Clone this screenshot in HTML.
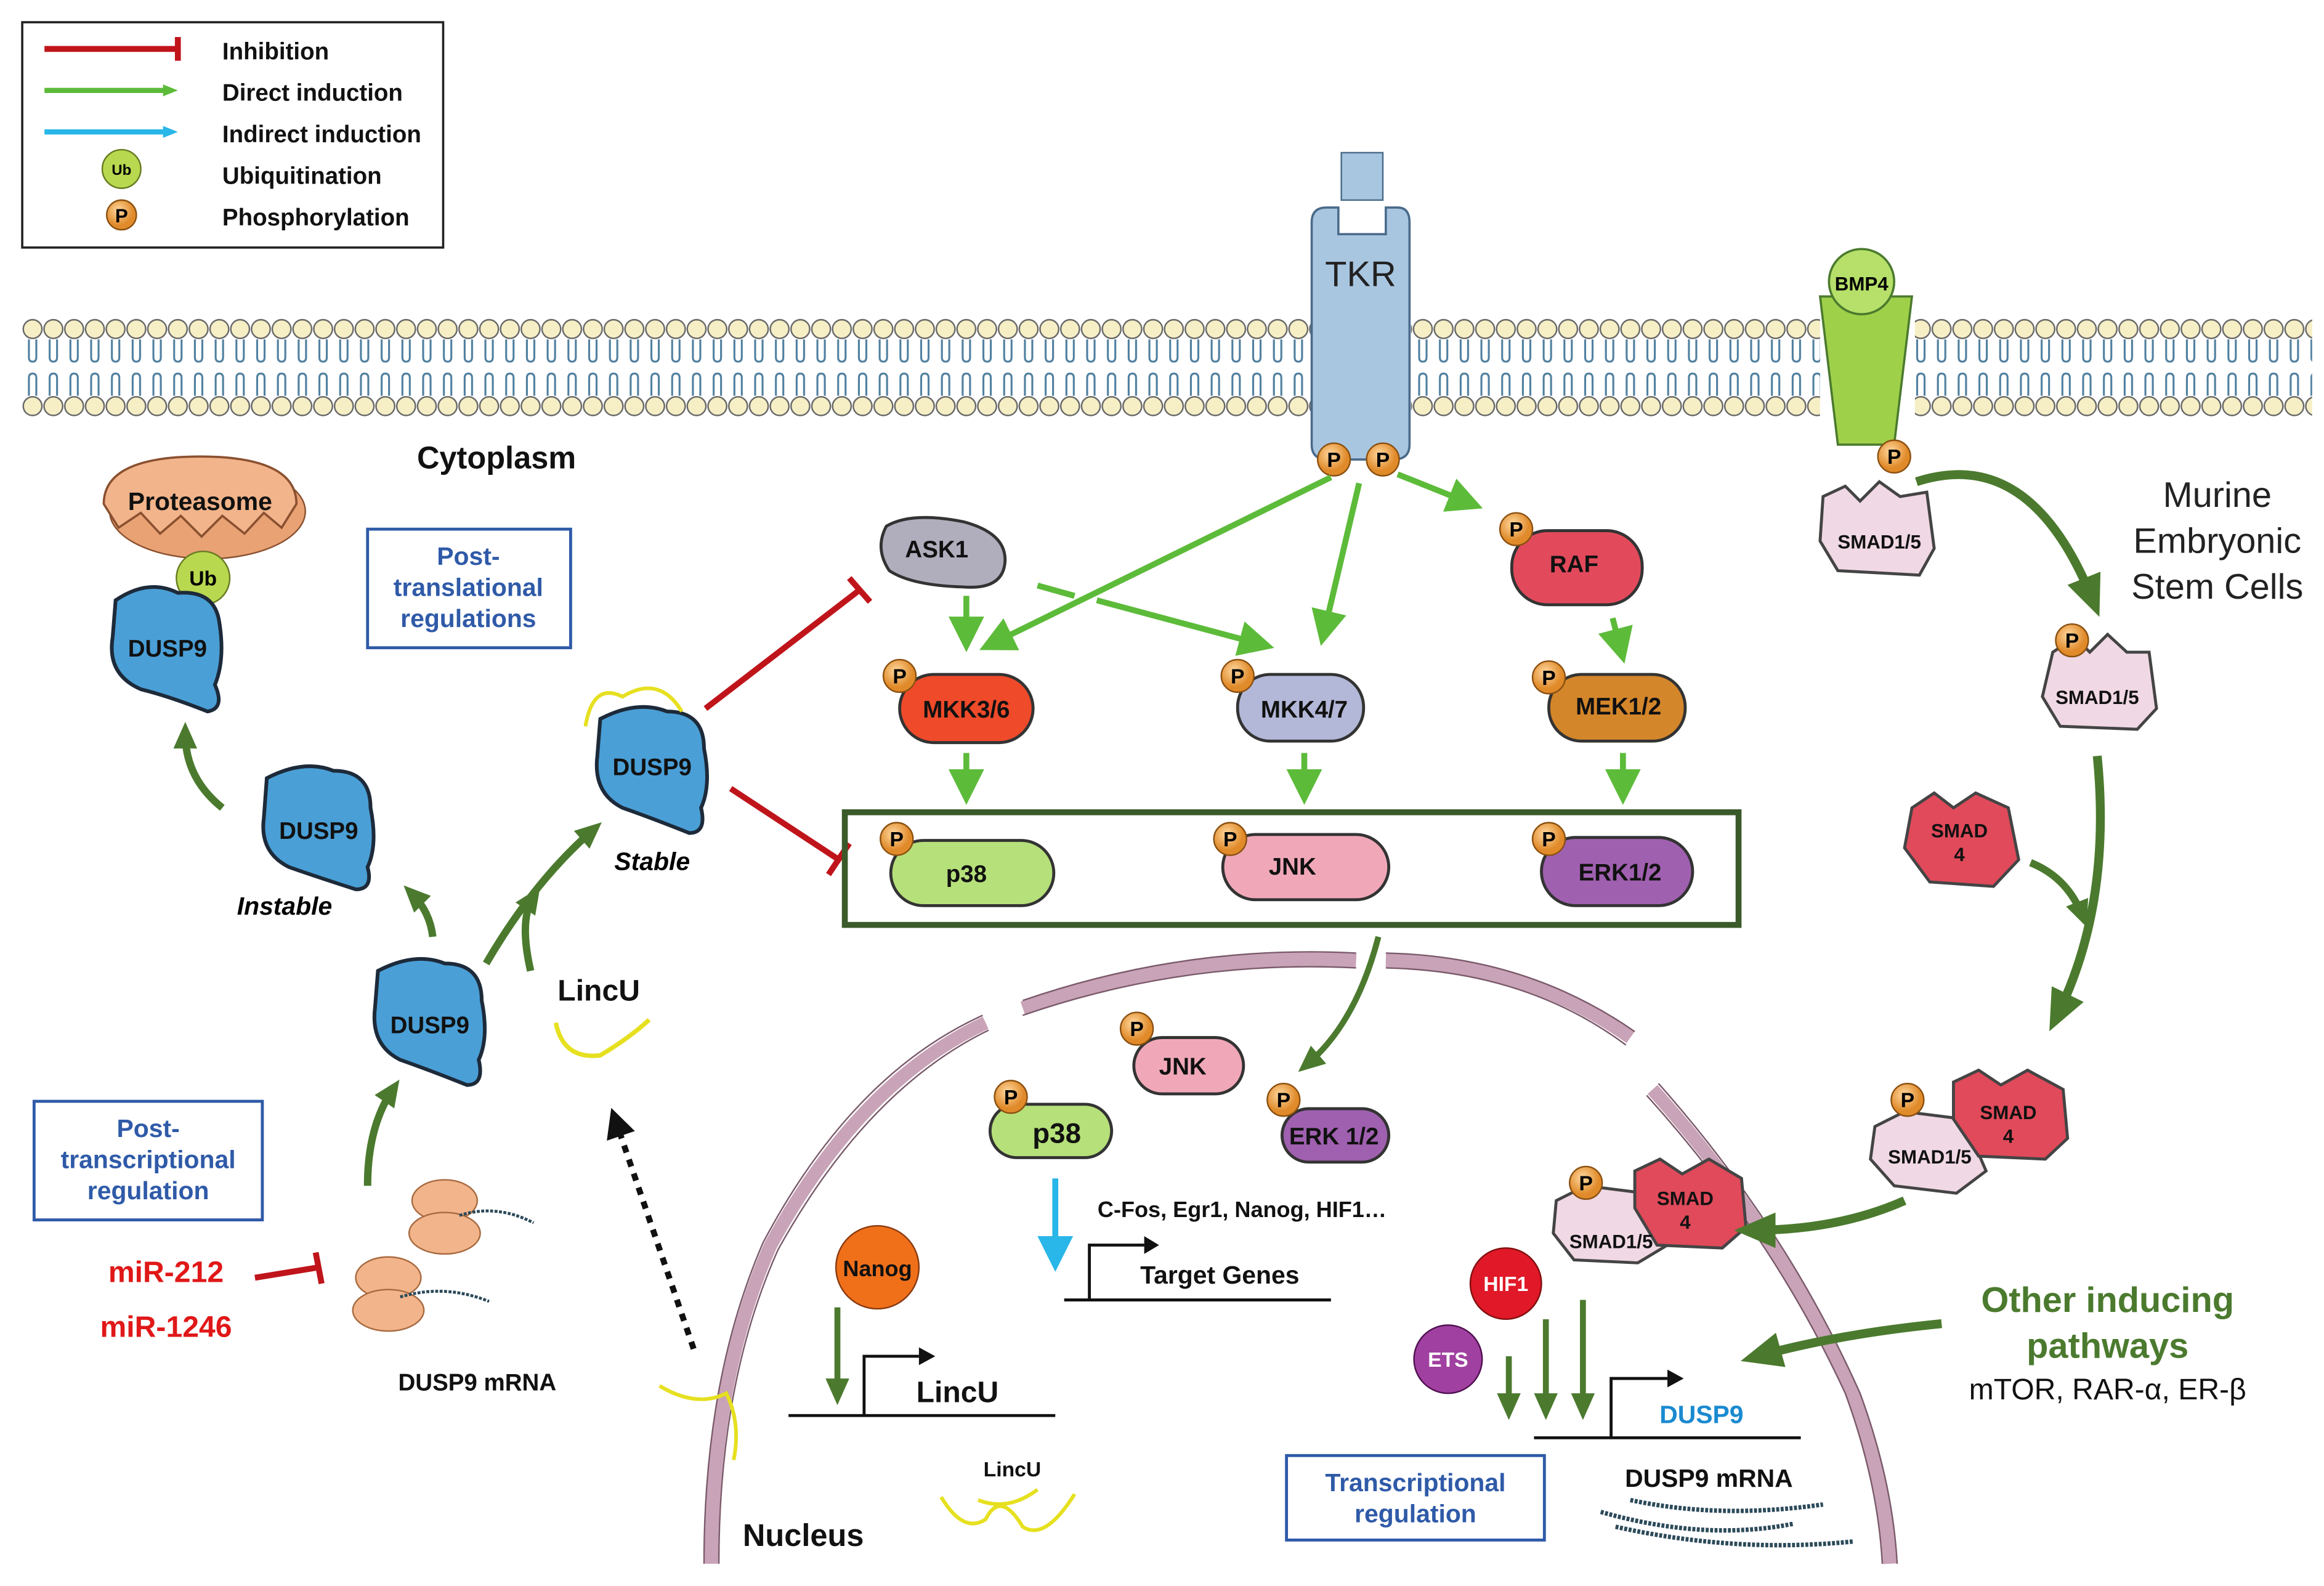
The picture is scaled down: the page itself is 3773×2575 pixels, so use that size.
<!DOCTYPE html>
<html><head><meta charset="utf-8"><style>
html,body{margin:0;padding:0;background:#fff;}
svg{display:block;}
text{font-family:"Liberation Sans",sans-serif;}
.b{font-weight:bold;fill:#111;}
.box{fill:#fff;stroke:#2f5aa8;stroke-width:2;}
.bt{font-weight:bold;fill:#2f5aa8;}
</style></head><body>
<svg width="3773" height="2575" viewBox="0 0 1568 1070" preserveAspectRatio="none" xmlns="http://www.w3.org/2000/svg" font-size="16">
<defs>
<pattern id="mem" x="15" y="213" width="14" height="70" patternUnits="userSpaceOnUse">
<circle cx="7" cy="9" r="6.3" fill="#f6efc6" stroke="#666" stroke-width="1"/>
<circle cx="7" cy="61" r="6.3" fill="#f6efc6" stroke="#666" stroke-width="1"/>
<path d="M4.5 16 V28 Q4.5 31 7 31 M9.5 16 V28 Q9.5 31 7 31 M4.5 54 V42 Q4.5 39 7 39 M9.5 54 V42 Q9.5 39 7 39" fill="none" stroke="#4f7f9f" stroke-width="1.3"/>
</pattern>
<marker id="ag" markerWidth="6" markerHeight="6" refX="4" refY="3" orient="auto" markerUnits="strokeWidth"><path d="M0,0 L6,3 L0,6 z" fill="#5dbb3a"/></marker>
<marker id="lg" markerWidth="10" markerHeight="10" refX="6" refY="5" orient="auto" markerUnits="userSpaceOnUse"><path d="M0,1 L10,5 L0,9 z" fill="#5dbb3a"/></marker>
<marker id="lb" markerWidth="10" markerHeight="10" refX="6" refY="5" orient="auto" markerUnits="userSpaceOnUse"><path d="M0,1 L10,5 L0,9 z" fill="#29b6e8"/></marker>
<marker id="adg" markerWidth="18" markerHeight="18" refX="10" refY="9" orient="auto" markerUnits="userSpaceOnUse"><path d="M0,1 L18,9 L0,17 z" fill="#4b7a2e"/></marker>
<marker id="adgB" markerWidth="28" markerHeight="28" refX="16" refY="14" orient="auto" markerUnits="userSpaceOnUse"><path d="M0,2 L28,14 L0,26 z" fill="#4b7a2e"/></marker>
<marker id="ab" markerWidth="6" markerHeight="6" refX="4" refY="3" orient="auto" markerUnits="strokeWidth"><path d="M0,0 L6,3 L0,6 z" fill="#29b6e8"/></marker>
<marker id="ak" markerWidth="5" markerHeight="5" refX="3" refY="2.5" orient="auto" markerUnits="strokeWidth"><path d="M0,0 L5,2.5 L0,5 z" fill="#111"/></marker>
<radialGradient id="gP" cx="40%" cy="35%"><stop offset="0" stop-color="#ffd9a0"/><stop offset="1" stop-color="#e08a2a"/></radialGradient>
</defs>

<rect x="15" y="213" width="870" height="70" fill="url(#mem)"/>
<rect x="952" y="213" width="276" height="70" fill="url(#mem)"/>
<rect x="1292" y="213" width="268" height="70" fill="url(#mem)"/>

<rect x="15" y="15" width="284" height="152" fill="#fff" stroke="#222" stroke-width="1.5"/>
<line x1="30" y1="33" x2="120" y2="33" stroke="#c0141b" stroke-width="4"/><line x1="120" y1="25" x2="120" y2="41" stroke="#c0141b" stroke-width="4"/>
<line x1="30" y1="61" x2="116" y2="61" stroke="#5dbb3a" stroke-width="3.5" marker-end="url(#lg)"/>
<line x1="30" y1="89" x2="116" y2="89" stroke="#29b6e8" stroke-width="3.5" marker-end="url(#lb)"/>
<circle cx="82" cy="114" r="13" fill="#b8d850" stroke="#667a20"/><text x="82" y="118" font-size="10" text-anchor="middle" font-weight="bold">Ub</text>
<circle cx="82" cy="145" r="10" fill="url(#gP)" stroke="#8a5010"/><text x="82" y="150" font-size="13" text-anchor="middle" font-weight="bold">P</text>
<text class="b" x="150" y="40" font-size="16">Inhibition</text>
<text class="b" x="150" y="68" font-size="16">Direct induction</text>
<text class="b" x="150" y="96" font-size="16">Indirect induction</text>
<text class="b" x="150" y="124" font-size="16">Ubiquitination</text>
<text class="b" x="150" y="152" font-size="16">Phosphorylation</text>

<rect x="905" y="103" width="28" height="32" fill="#a9c6e0" stroke="#4a6a8a"/>
<path d="M885 150 Q885 140 895 140 H903 V158 H935 V140 H943 Q951 140 951 150 V300 Q951 310 940 310 H896 Q885 310 885 300 Z" fill="#a9c6e0" stroke="#4a6a8a" stroke-width="1.5"/>
<text x="918" y="193" font-size="24" text-anchor="middle" fill="#222">TKR</text>
<g font-weight="bold" font-size="14" text-anchor="middle">
<circle cx="900" cy="310" r="11" fill="url(#gP)" stroke="#8a5010"/><text x="900" y="315">P</text>
<circle cx="933" cy="310" r="11" fill="url(#gP)" stroke="#8a5010"/><text x="933" y="315">P</text>
</g>

<path d="M1228 200 H1290 L1278 300 H1240 Z" fill="#9fd04a" stroke="#4b7a2e" stroke-width="1.5"/>
<circle cx="1256" cy="190" r="22" fill="#b6e06a" stroke="#4b7a2e" stroke-width="1.5"/>
<text x="1256" y="196" font-size="13" font-weight="bold" text-anchor="middle">BMP4</text>
<circle cx="1278" cy="308" r="11" fill="url(#gP)" stroke="#8a5010"/><text x="1278" y="313" font-size="14" font-weight="bold" text-anchor="middle">P</text>

<text class="b" x="335" y="316" font-size="21" text-anchor="middle">Cytoplasm</text>

<rect class="box" x="248" y="357" width="137" height="80"/>
<text class="bt" font-size="17" text-anchor="middle"><tspan x="316" y="381">Post-</tspan><tspan x="316" y="402">translational</tspan><tspan x="316" y="423">regulations</tspan></text>
<rect class="box" x="23" y="743" width="154" height="80"/>
<text class="bt" font-size="17" text-anchor="middle"><tspan x="100" y="767">Post-</tspan><tspan x="100" y="788">transcriptional</tspan><tspan x="100" y="809">regulation</tspan></text>

<ellipse cx="140" cy="345" rx="66" ry="32" fill="#e8a274" stroke="#8a5030"/>
<path d="M70 340 Q70 308 135 308 Q200 308 200 340 L190 356 L178 346 L165 360 L150 348 L136 362 L122 348 L108 360 L95 346 L80 356 Z" fill="#f2b48a" stroke="#8a5030" stroke-width="1.5"/>
<text class="b" x="135" y="344" font-size="17" text-anchor="middle">Proteasome</text>
<circle cx="137" cy="390" r="18" fill="#b8d850" stroke="#667a20"/><text x="137" y="395" font-size="14" font-weight="bold" text-anchor="middle">Ub</text>

<g stroke="#1d2a3a" stroke-width="2.5" fill="#4a9fd6">
<path d="M78 405 Q100 390 120 400 Q145 398 148 420 Q152 445 145 462 Q152 478 140 480 Q115 470 95 465 Q72 455 76 430 Z"/>
<path d="M180 525 Q205 512 225 520 Q250 520 250 545 Q255 570 248 585 Q252 600 240 600 Q215 592 195 585 Q175 575 178 552 Z"/>
<path d="M255 655 Q280 642 300 650 Q325 650 325 675 Q330 700 323 715 Q327 732 315 732 Q290 722 270 715 Q250 705 253 680 Z"/>
<path d="M405 485 Q430 472 450 480 Q475 480 475 505 Q480 530 473 545 Q477 562 465 562 Q440 552 420 545 Q400 535 403 510 Z"/>
</g>
<path d="M395 490 Q400 460 420 470 Q445 455 460 480" fill="none" stroke="#e6e020" stroke-width="2.5"/>
<g class="b" text-anchor="middle" font-size="16">
<text x="113" y="443">DUSP9</text><text x="215" y="566">DUSP9</text><text x="290" y="697">DUSP9</text><text x="440" y="523">DUSP9</text>
</g>
<text x="192" y="617" font-size="17" font-weight="bold" font-style="italic" text-anchor="middle">Instable</text>
<text x="440" y="587" font-size="17" font-weight="bold" font-style="italic" text-anchor="middle">Stable</text>

<g fill="none" stroke="#4b7a2e" stroke-width="5" marker-end="url(#adg)">
<path d="M150 545 Q125 525 125 495"/>
<path d="M292 632 Q290 615 278 603"/>
<path d="M248 800 Q248 760 265 735"/>
<path d="M328 650 Q360 595 400 560"/>
<path d="M358 655 Q350 620 360 605"/>
</g>
<text class="b" x="404" y="675" font-size="20" text-anchor="middle">LincU</text>
<path d="M375 690 Q380 715 405 712 Q425 700 438 688" fill="none" stroke="#e6e020" stroke-width="3"/>
<path d="M468 910 L415 755" stroke="#111" stroke-width="4" stroke-dasharray="5 5" marker-end="url(#ak)"/>

<g fill="#f2b48a" stroke="#a86a40">
<ellipse cx="300" cy="810" rx="22" ry="14"/><ellipse cx="300" cy="832" rx="24" ry="14"/>
<ellipse cx="262" cy="862" rx="22" ry="14"/><ellipse cx="262" cy="884" rx="24" ry="14"/>
</g>
<path d="M310 820 Q335 812 360 825 M270 875 Q300 866 330 878" stroke="#2c4a5a" stroke-width="2" fill="none" stroke-dasharray="2 1"/>
<text class="b" x="322" y="938" font-size="16" text-anchor="middle">DUSP9 mRNA</text>
<text x="112" y="865" font-size="20" font-weight="bold" fill="#e01818" text-anchor="middle">miR-212</text>
<text x="112" y="902" font-size="20" font-weight="bold" fill="#e01818" text-anchor="middle">miR-1246</text>
<line x1="172" y1="862" x2="215" y2="855" stroke="#c0141b" stroke-width="4"/><line x1="213" y1="845" x2="217" y2="866" stroke="#c0141b" stroke-width="4"/>

<line x1="476" y1="478" x2="580" y2="398" stroke="#c0141b" stroke-width="4"/><line x1="573" y1="390" x2="587" y2="406" stroke="#c0141b" stroke-width="4"/>
<line x1="493" y1="532" x2="566" y2="580" stroke="#c0141b" stroke-width="4"/><line x1="559" y1="590" x2="573" y2="569" stroke="#c0141b" stroke-width="4"/>

<g stroke="#333" stroke-width="2">
<path d="M598 355 Q615 345 650 352 Q680 360 678 380 Q676 398 650 396 Q615 395 600 385 Q590 370 598 355Z" fill="#b0adbd"/>
<rect x="607" y="455" width="90" height="46" rx="23" fill="#ef4a2a"/>
<rect x="835" y="455" width="85" height="45" rx="22" fill="#b3b8d8"/>
<rect x="1020" y="358" width="88" height="50" rx="24" fill="#e24a5c"/>
<rect x="1045" y="455" width="92" height="45" rx="22" fill="#d4862a"/>
<rect x="601" y="567" width="110" height="44" rx="22" fill="#b6e07a"/>
<rect x="825" y="563" width="112" height="44" rx="22" fill="#f0a8b8"/>
<rect x="1040" y="565" width="102" height="46" rx="23" fill="#a060b0"/>
</g>
<g class="b" text-anchor="middle" font-size="16">
<text x="632" y="376">ASK1</text><text x="652" y="484">MKK3/6</text><text x="880" y="484">MKK4/7</text>
<text x="1062" y="386">RAF</text><text x="1092" y="482">MEK1/2</text>
<text x="652" y="595">p38</text><text x="872" y="590">JNK</text><text x="1093" y="594">ERK1/2</text>
</g>
<g font-weight="bold" font-size="14" text-anchor="middle">
<circle cx="607" cy="456" r="11" fill="url(#gP)" stroke="#8a5010"/><text x="607" y="461">P</text>
<circle cx="835" cy="456" r="11" fill="url(#gP)" stroke="#8a5010"/><text x="835" y="461">P</text>
<circle cx="1023" cy="357" r="11" fill="url(#gP)" stroke="#8a5010"/><text x="1023" y="362">P</text>
<circle cx="1045" cy="457" r="11" fill="url(#gP)" stroke="#8a5010"/><text x="1045" y="462">P</text>
<circle cx="605" cy="566" r="11" fill="url(#gP)" stroke="#8a5010"/><text x="605" y="571">P</text>
<circle cx="830" cy="566" r="11" fill="url(#gP)" stroke="#8a5010"/><text x="830" y="571">P</text>
<circle cx="1045" cy="566" r="11" fill="url(#gP)" stroke="#8a5010"/><text x="1045" y="571">P</text>
</g>
<rect x="570" y="548" width="603" height="76" fill="none" stroke="#3a5a2a" stroke-width="4"/>

<g stroke="#5dbb3a" stroke-width="4" marker-end="url(#ag)" fill="none">
<line x1="898" y1="322" x2="668" y2="435"/>
<line x1="917" y1="326" x2="893" y2="428"/>
<line x1="943" y1="320" x2="993" y2="340"/>
<line x1="652" y1="402" x2="652" y2="432"/>
<line x1="740" y1="405" x2="852" y2="435"/>
<line x1="1088" y1="417" x2="1094" y2="440"/>
<line x1="652" y1="508" x2="652" y2="535"/>
<line x1="880" y1="508" x2="880" y2="535"/>
<line x1="1095" y1="508" x2="1095" y2="535"/>
</g>
<line x1="700" y1="395" x2="725" y2="402" stroke="#5dbb3a" stroke-width="4"/>

<g fill="none" stroke="#c9a3b8" stroke-width="9">
<path d="M480 1055 Q480 930 520 840 Q580 730 665 690"/>
<path d="M690 680 Q800 642 915 648"/>
<path d="M935 648 Q1030 650 1100 700"/>
<path d="M1115 735 Q1200 830 1250 940 Q1272 1000 1275 1055"/>
</g>
<g fill="none" stroke="#7a5a6a" stroke-width="1">
<path d="M475 1055 Q475 930 515 838 Q575 725 663 685"/><path d="M485 1055 Q485 932 525 843 Q585 735 667 695"/>
<path d="M690 675 Q800 637 915 643"/><path d="M690 685 Q800 647 915 653"/>
<path d="M935 643 Q1030 645 1103 696"/><path d="M935 653 Q1030 655 1097 705"/>
<path d="M1119 731 Q1205 828 1255 940 Q1277 1000 1280 1055"/><path d="M1111 739 Q1195 832 1245 940 Q1267 1000 1270 1055"/>
</g>
<path d="M930 632 Q915 690 882 718" fill="none" stroke="#4b7a2e" stroke-width="4" marker-end="url(#adg)"/>

<g stroke="#333" stroke-width="2">
<rect x="765" y="700" width="74" height="38" rx="19" fill="#f0a8b8"/>
<rect x="865" y="748" width="72" height="36" rx="18" fill="#a060b0"/>
<rect x="668" y="745" width="82" height="36" rx="18" fill="#b6e07a"/>
</g>
<g class="b" text-anchor="middle" font-size="16"><text x="798" y="725">JNK</text><text x="900" y="772">ERK 1/2</text><text x="713" y="771" font-size="19">p38</text></g>
<g font-weight="bold" font-size="14" text-anchor="middle">
<circle cx="767" cy="694" r="11" fill="url(#gP)" stroke="#8a5010"/><text x="767" y="699">P</text>
<circle cx="866" cy="742" r="11" fill="url(#gP)" stroke="#8a5010"/><text x="866" y="747">P</text>
<circle cx="682" cy="740" r="11" fill="url(#gP)" stroke="#8a5010"/><text x="682" y="745">P</text>
</g>
<line x1="712" y1="795" x2="712" y2="850" stroke="#29b6e8" stroke-width="4" marker-end="url(#ab)"/>
<text class="b" x="838" y="821" font-size="15" text-anchor="middle">C-Fos, Egr1, Nanog, HIF1…</text>
<path d="M718 877 H898 M735 877 V840 H772" stroke="#111" stroke-width="2" fill="none"/><path d="M772 834 L782 840 L772 846Z" fill="#111"/>
<text class="b" x="823" y="866" font-size="17" text-anchor="middle">Target Genes</text>

<circle cx="592" cy="855" r="28" fill="#f0701a" stroke="#8a3a10"/>
<text class="b" x="592" y="861" font-size="15" text-anchor="middle">Nanog</text>
<line x1="565" y1="882" x2="565" y2="940" stroke="#4b7a2e" stroke-width="4" marker-end="url(#adg)"/>
<path d="M532 955 H712 M583 955 V915 H620" stroke="#111" stroke-width="2" fill="none"/><path d="M620 909 L631 915 L620 921Z" fill="#111"/>
<text class="b" x="646" y="946" font-size="20" text-anchor="middle">LincU</text>
<text class="b" x="683" y="996" font-size="14" text-anchor="middle">LincU</text>
<path d="M635 1010 Q650 1035 665 1025 Q675 1005 690 1030 Q705 1040 725 1008 M660 1012 Q680 1020 700 1005" fill="none" stroke="#e6e020" stroke-width="2.5"/>
<path d="M445 935 Q470 950 490 940 Q500 960 495 985" fill="none" stroke="#e6e020" stroke-width="2.5"/>
<text class="b" x="542" y="1043" font-size="21" text-anchor="middle">Nucleus</text>

<circle cx="1016" cy="866" r="24" fill="#e01828" stroke="#801010"/><text x="1016" y="871" font-size="14" font-weight="bold" fill="#fff" text-anchor="middle">HIF1</text>
<circle cx="977" cy="917" r="23" fill="#a040a0" stroke="#501050"/><text x="977" y="922" font-size="14" font-weight="bold" fill="#fff" text-anchor="middle">ETS</text>
<g stroke="#4b7a2e" stroke-width="4" marker-end="url(#adg)"><line x1="1018" y1="915" x2="1018" y2="950"/><line x1="1043" y1="890" x2="1043" y2="950"/><line x1="1068" y1="877" x2="1068" y2="950"/></g>
<path d="M1035 970 H1215 M1087 970 V930 H1125" stroke="#111" stroke-width="2" fill="none"/><path d="M1125 924 L1136 930 L1125 936Z" fill="#111"/>
<text x="1148" y="960" font-size="17" font-weight="bold" fill="#1a8ad0" text-anchor="middle">DUSP9</text>
<text class="b" x="1153" y="1003" font-size="17" text-anchor="middle">DUSP9 mRNA</text>
<path d="M1080 1020 Q1150 1040 1210 1028 M1090 1030 Q1170 1048 1250 1040 M1100 1012 Q1160 1025 1230 1015" stroke="#2c4a5a" stroke-width="3" fill="none" stroke-dasharray="2 1"/>
<rect class="box" x="868" y="982" width="174" height="57"/>
<text class="bt" font-size="17" text-anchor="middle"><tspan x="955" y="1006">Transcriptional</tspan><tspan x="955" y="1027">regulation</tspan></text>

<g stroke="#444" stroke-width="2">
<path d="M1230 335 L1245 328 L1255 338 L1268 325 L1282 335 L1300 332 L1305 370 L1295 388 L1240 385 L1228 365 Z" fill="#f0d8e4"/>
<path d="M1385 440 L1400 430 L1410 440 L1422 428 L1435 440 L1450 440 L1455 478 L1442 492 L1390 490 L1378 470 Z" fill="#f0d8e4"/>
<path d="M1290 545 L1305 535 L1318 545 L1333 535 L1355 545 L1362 580 L1345 598 L1302 595 L1285 572 Z" fill="#e04a5a"/>
<path d="M1265 760 L1285 750 L1325 755 L1340 790 L1320 805 L1278 800 L1262 782 Z" fill="#f0d8e4"/>
<path d="M1318 730 L1335 722 L1350 732 L1368 722 L1392 735 L1395 768 L1380 782 L1335 780 L1318 755 Z" fill="#e04a5a"/>
<path d="M1050 810 L1070 800 L1110 805 L1125 840 L1105 852 L1062 850 L1048 832 Z" fill="#f0d8e4"/>
<path d="M1103 790 L1120 782 L1135 792 L1153 782 L1175 795 L1178 828 L1162 842 L1118 840 L1103 815 Z" fill="#e04a5a"/>
</g>
<g class="b" text-anchor="middle" font-size="13">
<text x="1268" y="370">SMAD1/5</text><text x="1415" y="475">SMAD1/5</text>
<text x="1322" y="565">SMAD</text><text x="1322" y="581">4</text>
<text x="1302" y="785">SMAD1/5</text><text x="1355" y="755">SMAD</text><text x="1355" y="771">4</text>
<text x="1087" y="842">SMAD1/5</text><text x="1137" y="813">SMAD</text><text x="1137" y="829">4</text>
</g>
<g font-weight="bold" font-size="14" text-anchor="middle">
<circle cx="1398" cy="432" r="11" fill="url(#gP)" stroke="#8a5010"/><text x="1398" y="437">P</text>
<circle cx="1287" cy="742" r="11" fill="url(#gP)" stroke="#8a5010"/><text x="1287" y="747">P</text>
<circle cx="1070" cy="798" r="11" fill="url(#gP)" stroke="#8a5010"/><text x="1070" y="803">P</text>
</g>
<g fill="none" stroke="#4b7a2e" stroke-width="6" marker-end="url(#adgB)">
<path d="M1293 325 Q1370 300 1412 405"/>
<path d="M1415 510 Q1425 610 1388 685"/>
<path d="M1285 810 Q1240 830 1182 830"/>
<path d="M1310 893 Q1240 900 1186 915"/>
</g>
<path d="M1370 582 Q1395 592 1405 618" fill="none" stroke="#4b7a2e" stroke-width="5" marker-end="url(#adg)"/>
<g font-size="24" text-anchor="middle" fill="#222"><text x="1496" y="342">Murine</text><text x="1496" y="373">Embryonic</text><text x="1496" y="404">Stem Cells</text></g>
<text x="1422" y="885" font-size="24" font-weight="bold" fill="#4b7a2e" text-anchor="middle">Other inducing</text>
<text x="1422" y="916" font-size="24" font-weight="bold" fill="#4b7a2e" text-anchor="middle">pathways</text>
<text x="1422" y="944" font-size="20" fill="#111" text-anchor="middle">mTOR, RAR-α, ER-β</text>
</svg>
</body></html>
